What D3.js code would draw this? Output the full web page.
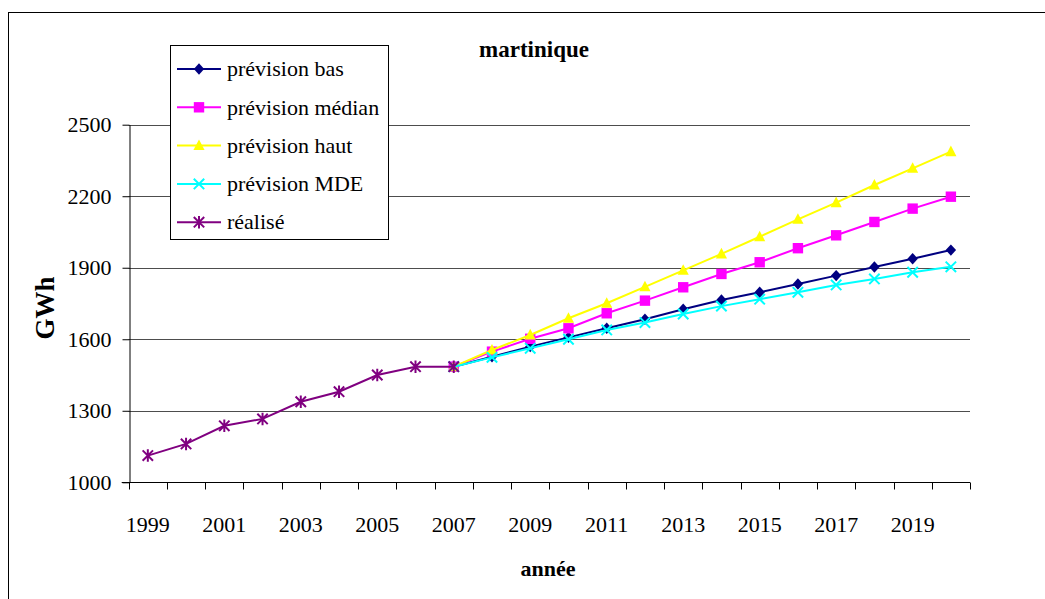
<!DOCTYPE html>
<html>
<head>
<meta charset="utf-8">
<script src="https://cdn.jsdelivr.net/npm/d3@7"></script>
<style>
  html, body { margin: 0; padding: 0; background: #fff; }
  svg { display: block; }
  svg text { font-family: "Liberation Serif", "Times New Roman", serif !important; fill: #000; }
</style>
</head>
<body>
<svg id="chart" width="1045" height="599"></svg>
<script>
// Electricity demand, Martinique (GWh): actuals and forecasts
const years = ["1999","2000","2001","2002","2003","2004","2005","2006","2007","2008","2009","2010",
               "2011","2012","2013","2014","2015","2016","2017","2018","2019","2020"];
const forecastYears = years.slice(8); // 2007 .. 2020
const realiseYears = years.slice(0, 9); // 1999 .. 2007

const prevBas    = [1485,1527,1569,1608,1646,1684,1726,1765,1797,1832,1867,1903,1938,1974];
const prevMedian = [1485,1548,1602,1646,1709,1762,1818,1874,1923,1982,2036,2092,2148,2198];
const prevHaut   = [1485,1555,1618,1688,1751,1820,1889,1958,2030,2103,2173,2247,2317,2387];
const prevMDE    = [1485,1524,1562,1600,1639,1670,1706,1739,1768,1797,1828,1853,1881,1904];
const realise    = [1112,1161,1237,1266,1338,1380,1450,1485,1485];

const yTicks = [1000, 1300, 1600, 1900, 2200, 2500];
const xLabelYears = ["1999","2001","2003","2005","2007","2009","2011","2013","2015","2017","2019"];

const seriesNames = ["prévision bas","prévision médian","prévision haut","prévision MDE","réalisé"];
const seriesColors = ["#000080","#ff00ff","#ffff00","#00ffff","#800080"];
const seriesMarkers = ["diamond","square","triangle","cross","star"];

const series = [
  { name: seriesNames[0], color: seriesColors[0], marker: seriesMarkers[0], x: forecastYears, v: prevBas },
  { name: seriesNames[1], color: seriesColors[1], marker: seriesMarkers[1], x: forecastYears, v: prevMedian },
  { name: seriesNames[2], color: seriesColors[2], marker: seriesMarkers[2], x: forecastYears, v: prevHaut },
  { name: seriesNames[3], color: seriesColors[3], marker: seriesMarkers[3], x: forecastYears, v: prevMDE },
  { name: seriesNames[4], color: seriesColors[4], marker: seriesMarkers[4], x: realiseYears, v: realise }
];

const FONT = "'Liberation Serif', 'Times New Roman', serif";
const svg = d3.select("#chart");

// plot area
const plot = { left: 128.7, right: 970, top: 124.7, bottom: 482.3 };

const x = d3.scaleBand().domain(years).range([plot.left, plot.right]).paddingInner(0).paddingOuter(0);
const y = d3.scaleLinear().domain([1000, 2500]).range([plot.bottom, plot.top]);
const cx = d => x(d) + x.bandwidth() / 2;

// outer frame
svg.append("rect")
  .attr("x", 8.5).attr("y", 12.5).attr("width", 1100).attr("height", 700)
  .attr("fill", "none").attr("stroke", "#000").attr("stroke-width", 1);

// horizontal gridlines
svg.append("g").selectAll("line")
  .data(yTicks.filter(t => t > 1000))
  .join("line")
  .attr("x1", plot.left).attr("x2", plot.right)
  .attr("y1", d => Math.round(y(d)) + 0.5).attr("y2", d => Math.round(y(d)) + 0.5)
  .attr("stroke", "#4d4d4d").attr("stroke-width", 1);

// y axis
const yAxis = svg.append("g")
  .attr("transform", `translate(${Math.round(plot.left) + 0.5},0)`)
  .call(d3.axisLeft(y).tickValues(yTicks).tickSize(7).tickSizeOuter(0).tickPadding(10).tickFormat(d3.format("d")));
yAxis.attr("font-family", null).attr("font-size", null);
yAxis.select(".domain").attr("stroke", "#000");
yAxis.selectAll(".tick line").attr("stroke", "#000");
yAxis.selectAll(".tick text")
  .style("font-family", FONT).style("font-size", "22px").attr("fill", "#000")
  .attr("x", -18);

// x axis line and ticks at category boundaries
const xAxis = svg.append("g");
const y0 = Math.round(plot.bottom) + 0.5;
xAxis.append("line")
  .attr("x1", plot.left - 7).attr("x2", plot.right)
  .attr("y1", y0).attr("y2", y0).attr("stroke", "#000");
const boundaries = years.map(d => x(d)).concat([plot.right]);
xAxis.selectAll("line.tick")
  .data(boundaries)
  .join("line").attr("class", "tick")
  .attr("x1", d => Math.round(d) + 0.5).attr("x2", d => Math.round(d) + 0.5)
  .attr("y1", y0).attr("y2", y0 + 7)
  .attr("stroke", "#000");
xAxis.selectAll("text")
  .data(xLabelYears)
  .join("text")
  .attr("x", d => cx(d))
  .attr("y", 532)
  .attr("text-anchor", "middle")
  .style("font-family", FONT)
  .style("font-size", "22px")
  .text(d => d);

// marker shapes
function markerPath(type, s) {
  const p = d3.path();
  if (type === "diamond") {
    p.moveTo(0, -s * 1.1); p.lineTo(s, 0); p.lineTo(0, s * 1.1); p.lineTo(-s, 0); p.closePath();
  } else if (type === "square") {
    p.rect(-s, -s, 2 * s, 2 * s);
  } else if (type === "triangle") {
    p.moveTo(0, -s * 1.15); p.lineTo(s * 1.05, s * 0.85); p.lineTo(-s * 1.05, s * 0.85); p.closePath();
  } else if (type === "cross") {
    p.moveTo(-s, -s); p.lineTo(s, s); p.moveTo(s, -s); p.lineTo(-s, s);
  } else if (type === "star") {
    p.moveTo(-s, -s); p.lineTo(s, s); p.moveTo(s, -s); p.lineTo(-s, s);
    p.moveTo(0, -s * 1.2); p.lineTo(0, s * 1.2);
  }
  return p.toString();
}
const markerSize = { diamond: 5.2, square: 5.2, triangle: 5.3, cross: 5.2, star: 5.2 };
const strokeMarker = t => t === "cross" || t === "star";

function drawMarker(g, type, color) {
  const path = g.append("path").attr("d", markerPath(type, markerSize[type]));
  if (strokeMarker(type)) {
    path.attr("fill", "none").attr("stroke", color).attr("stroke-width", 2);
  } else {
    path.attr("fill", color).attr("stroke", "none");
  }
}

const line = d3.line().x(d => cx(d[0])).y(d => y(d[1]));

// series lines and markers
const seriesG = svg.append("g");
series.forEach(s => {
  const pts = s.x.map((d, i) => [d, s.v[i]]);
  const g = seriesG.append("g");
  g.append("path")
    .attr("d", line(pts))
    .attr("fill", "none").attr("stroke", s.color).attr("stroke-width", 2);
  pts.forEach(p => {
    const mg = g.append("g").attr("transform", `translate(${cx(p[0])},${y(p[1])})`);
    drawMarker(mg, s.marker, s.color);
  });
});

// title
svg.append("text")
  .attr("x", 534).attr("y", 57)
  .attr("text-anchor", "middle")
  .style("font-family", FONT)
  .style("font-size", "23px").style("font-weight", "bold")
  .text("martinique");

// axis titles
svg.append("text")
  .attr("x", 548).attr("y", 576)
  .attr("text-anchor", "middle")
  .style("font-family", FONT)
  .style("font-size", "22px").style("font-weight", "bold")
  .text("année");

svg.append("text")
  .attr("transform", "translate(54,308) rotate(-90)")
  .attr("text-anchor", "middle")
  .style("font-family", FONT)
  .style("font-size", "27px").style("font-weight", "bold")
  .text("GWh");

// legend
const legend = svg.append("g");
legend.append("rect")
  .attr("x", 170.5).attr("y", 45.5).attr("width", 218).attr("height", 194)
  .attr("fill", "#fff").attr("stroke", "#000").attr("stroke-width", 1);
series.forEach((s, i) => {
  const ly = 69 + i * 38.3;
  const g = legend.append("g").attr("transform", `translate(0,${ly})`);
  g.append("line").attr("x1", 177).attr("x2", 221).attr("y1", 0).attr("y2", 0)
    .attr("stroke", s.color).attr("stroke-width", 2);
  const mg = g.append("g").attr("transform", "translate(199,0)");
  drawMarker(mg, s.marker, s.color);
  g.append("text").attr("x", 227).attr("y", 0).attr("dy", "0.33em")
    .style("font-family", FONT)
    .style("font-size", "22px").text(s.name);
});
</script>
</body>
</html>
